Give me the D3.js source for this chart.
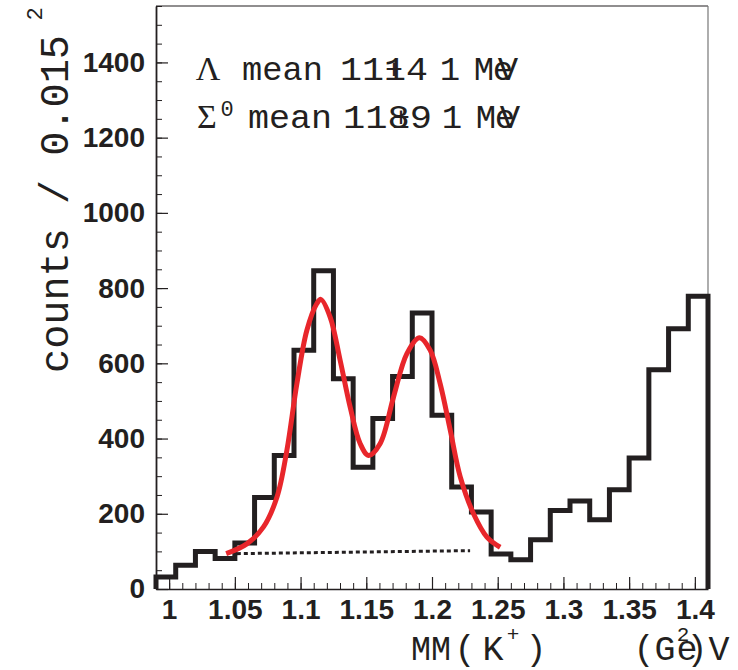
<!DOCTYPE html>
<html>
<head>
<meta charset="utf-8">
<script src="https://cdn.jsdelivr.net/npm/d3@7"></script>
<style>
  body { margin: 0; background: #fff; }
  svg { display: block; }
  .mono { font-family: "Liberation Mono", "Courier New", monospace; fill: #231f20; }
  .tick text { font-family: "Liberation Sans", Arial, sans-serif; font-weight: bold; font-size: 28px; fill: #231f20; }
</style>
</head>
<body>
<svg id="chart"></svg>
<script>
// histogram: 28 bins of 0.015 starting at 0.99
const binStart = 0.99;
const binWidth = 0.015;
const counts = [32, 63, 100, 81, 122, 243, 355, 635, 846, 559, 324, 453, 565, 734,
                462, 271, 205, 93, 78, 131, 209, 234, 184, 264, 348, 583, 692, 778];

// fitted curve
const fitX = [1.0434, 1.0591, 1.0718, 1.0820, 1.0896, 1.0972, 1.1048, 1.1124, 1.1154,
              1.1225, 1.1301, 1.1377, 1.1453, 1.1517, 1.1606, 1.1707, 1.1809, 1.1905,
              1.1986, 1.2062, 1.2139, 1.2215, 1.2316, 1.2418, 1.2519];
const fitY = [94, 120, 165, 244, 369, 546, 688, 759, 770,
              723, 608, 484, 387, 355, 387, 510, 626, 668,
              635, 546, 422, 298, 200, 138, 111];

// background line (dotted)
const bgX = [1.0515, 1.229];
const bgY = [94, 102];

const xTicks = [1, 1.05, 1.1, 1.15, 1.2, 1.25, 1.3, 1.35, 1.4];
const yTicks = [0, 200, 400, 600, 800, 1000, 1200, 1400];

const W = 738, H = 670;
const margin = { top: 6, right: 30, bottom: 81, left: 156 };
const width = W - margin.left - margin.right;
const height = H - margin.top - margin.bottom;

const svg = d3.select('#chart').attr('width', W).attr('height', H);
const g = svg.append('g').attr('transform', `translate(${margin.left},${margin.top})`);

const x = d3.scaleLinear().domain([0.99, 1.41]).range([0, width]);
const y = d3.scaleLinear().domain([0, 1550]).range([height, 0]);

//frame top / right
g.append('line').attr('x1', 0).attr('x2', width).attr('y1', 0).attr('y2', 0)
  .attr('stroke', '#231f20').attr('stroke-width', 1.2);
g.append('line').attr('x1', width).attr('x2', width).attr('y1', 0).attr('y2', height)
  .attr('stroke', '#777').attr('stroke-width', 1.2);

//minor ticks
const xMinor = d3.range(0, 42).map(i => +(1 + i * 0.01).toFixed(2));
const yMinor = d3.range(0, 32).map(i => i * 50);

g.append('g').attr('transform', `translate(0,${height})`)
  .call(d3.axisBottom(x).tickValues(xMinor).tickSizeInner(-6).tickSizeOuter(0).tickFormat(''))
  .call(a => a.select('.domain').remove())
  .selectAll('line').attr('stroke', '#231f20').attr('stroke-width', 1);

g.append('g')
  .call(d3.axisLeft(y).tickValues(yMinor).tickSizeInner(-6).tickSizeOuter(0).tickFormat(''))
  .call(a => a.select('.domain').remove())
  .selectAll('line').attr('stroke', '#231f20').attr('stroke-width', 1);

//x-axis
const xAxis = g.append('g').attr('transform', `translate(0,${height})`)
  .call(d3.axisBottom(x).tickValues(xTicks).tickSizeInner(-12).tickSizeOuter(0)
    .tickPadding(10).tickFormat(d => String(+d.toFixed(2))));
xAxis.select('.domain').attr('stroke', '#231f20').attr('stroke-width', 1.5);
xAxis.selectAll('line').attr('stroke', '#231f20').attr('stroke-width', 1.2);

//y-axis
const yAxis = g.append('g')
  .call(d3.axisLeft(y).tickValues(yTicks).tickSizeInner(-12).tickSizeOuter(0)
    .tickPadding(11).tickFormat(d3.format('d')));
yAxis.select('.domain').attr('stroke', '#231f20').attr('stroke-width', 1.8);
yAxis.selectAll('line').attr('stroke', '#231f20').attr('stroke-width', 1.2);

//histogram
const pts = [[binStart, 0]];
counts.forEach((c, i) => pts.push([binStart + i * binWidth, c]));
pts.push([binStart + counts.length * binWidth, counts[counts.length - 1]]);
pts.push([binStart + counts.length * binWidth, 0]);

g.append('path')
  .datum(pts)
  .attr('fill', 'none')
  .attr('stroke', '#231f20')
  .attr('stroke-width', 5)
  .attr('stroke-linejoin', 'miter')
  .attr('d', d3.line().x(d => x(d[0])).y(d => y(d[1])).curve(d3.curveStepAfter));

//background
g.append('path')
  .datum(bgX.map((v, i) => [v, bgY[i]]))
  .attr('fill', 'none')
  .attr('stroke', '#231f20')
  .attr('stroke-width', 3)
  .attr('stroke-dasharray', '4,3')
  .attr('d', d3.line().x(d => x(d[0])).y(d => y(d[1])));

//fit
g.append('path')
  .datum(fitX.map((v, i) => [v, fitY[i]]))
  .attr('fill', 'none')
  .attr('stroke', '#e8262b')
  .attr('stroke-width', 5)
  .attr('stroke-linecap', 'butt')
  .attr('d', d3.line().x(d => x(d[0])).y(d => y(d[1])).curve(d3.curveCatmullRom));

// text helpers
function put(txt, px, py, size, opts = {}) {
  const t = svg.append('text')
    .attr('class', 'mono')
    .attr('x', px).attr('y', py)
    .attr('font-size', size)
    .attr('text-anchor', opts.anchor || 'middle')
    .text(txt);
  if (opts.family) t.style('font-family', opts.family);
  if (opts.len) t.attr('textLength', opts.len).attr('lengthAdjust', 'spacingAndGlyphs');
  return t;
}
const serif = '"Liberation Serif", "Times New Roman", serif';

// row 1: Lambda
put('Λ', 208, 80, 34, { family: serif });
put('mean', 242, 80, 34, { anchor: 'start', len: 81 });
put('1114', 340, 80, 34, { anchor: 'start', len: 88 });
put('±', 394, 80, 30);
put('1', 450, 80, 34);
put('M', 484, 80, 34);
put('e', 503, 80, 34);
put('V', 508, 80, 34);

// row 2: Sigma0
put('Σ', 207, 128, 34, { family: serif });
put('0', 227, 116, 22);
put('mean', 248, 128, 34, { anchor: 'start', len: 84 });
put('1189', 343, 128, 34, { anchor: 'start', len: 89 });
put('±', 401, 128, 30);
put('1', 452, 128, 34);
put('M', 486, 128, 34);
put('e', 505, 128, 34);
put('V', 510, 128, 34);

// x title
put('MM', 411, 660, 35, { anchor: 'start', len: 40 });
put('(', 465, 660, 35);
put('K', 493, 660, 35);
put('+', 513, 641, 21);
put(')', 536, 660, 35);
put('(', 644, 660, 35);
put('G', 665, 660, 35);
put('e', 687, 660, 35);
put('2', 683, 641, 21);
put(')', 697, 660, 35);
put('V', 719, 660, 35);

// y title
const yt = svg.append('g').attr('transform', 'translate(68,373) rotate(-90)');
yt.append('text').attr('class', 'mono').attr('x', 0).attr('y', 0)
  .attr('font-size', 40).attr('textLength', 338).attr('lengthAdjust', 'spacingAndGlyphs')
  .text('counts / 0.015');
yt.append('text').attr('class', 'mono').attr('x', 359).attr('y', -26)
  .attr('font-size', 22).attr('text-anchor', 'middle').text('2');
</script>
</body>
</html>
